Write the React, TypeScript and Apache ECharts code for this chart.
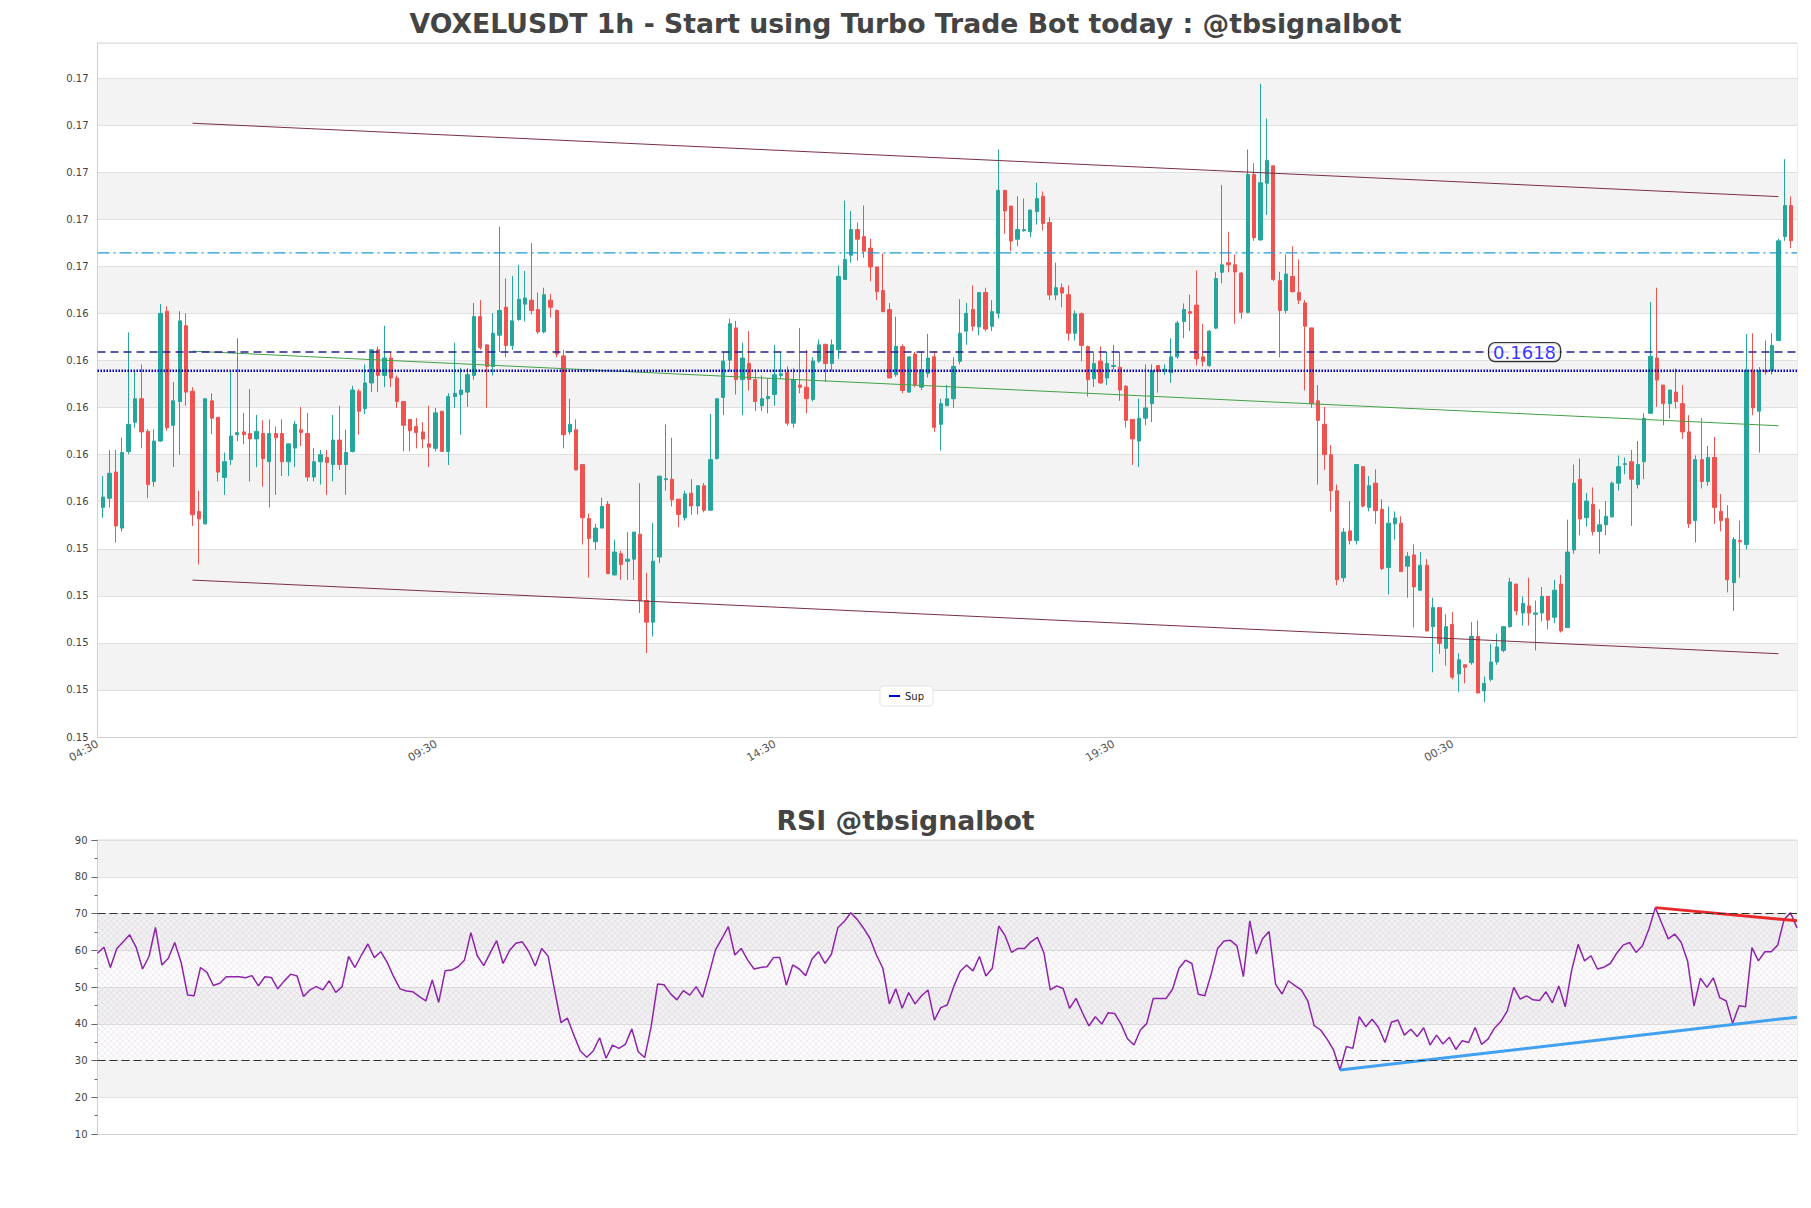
import { useEffect, useRef } from 'react';
import * as echarts from 'echarts';

const FONT = "'DejaVu Sans', sans-serif";

// candles: [open, close, low, high]
const ohlc: number[][] = [
  [0.15576, 0.1562, 0.15532, 0.15709], [0.15615, 0.15721, 0.15576, 0.1582], [0.15726, 0.15497, 0.15427, 0.1582], [0.15488, 0.15809, 0.15474, 0.15872],
  [0.15814, 0.15929, 0.15802, 0.1632], [0.15938, 0.16038, 0.15915, 0.16158], [0.16038, 0.15897, 0.15827, 0.16184], [0.15899, 0.15673, 0.15615, 0.15908],
  [0.15686, 0.15858, 0.15664, 0.15908], [0.15858, 0.16401, 0.15855, 0.1644], [0.1641, 0.15915, 0.15902, 0.16431], [0.15925, 0.16029, 0.15747, 0.16109],
  [0.16026, 0.16369, 0.158, 0.1641], [0.16348, 0.16066, 0.16008, 0.16401], [0.1607, 0.15545, 0.15497, 0.16087], [0.15559, 0.15527, 0.15333, 0.15647],
  [0.15506, 0.16038, 0.15502, 0.16038], [0.16029, 0.15955, 0.15888, 0.16061], [0.15959, 0.15726, 0.15686, 0.15959], [0.15703, 0.1577, 0.15629, 0.15809],
  [0.15779, 0.15879, 0.15756, 0.16158], [0.15885, 0.15894, 0.15858, 0.16295], [0.15897, 0.15885, 0.15844, 0.15978], [0.1589, 0.15867, 0.15686, 0.16079],
  [0.15867, 0.15899, 0.15747, 0.15969], [0.1589, 0.15784, 0.15664, 0.15946], [0.1577, 0.1589, 0.15576, 0.1595], [0.1589, 0.15872, 0.15629, 0.1592],
  [0.1589, 0.1577, 0.15709, 0.1595], [0.1577, 0.15846, 0.15709, 0.15846], [0.15828, 0.15929, 0.15747, 0.15943], [0.15906, 0.15894, 0.15837, 0.16003],
  [0.1589, 0.15705, 0.15687, 0.15978], [0.15705, 0.1577, 0.15687, 0.15828], [0.1577, 0.158, 0.15673, 0.1582], [0.15788, 0.15767, 0.15629, 0.1582],
  [0.15758, 0.15862, 0.15687, 0.15969], [0.15862, 0.15758, 0.15735, 0.16008], [0.15758, 0.15809, 0.15629, 0.15906], [0.15814, 0.16075, 0.15809, 0.16093],
  [0.1607, 0.15985, 0.15885, 0.16079], [0.15996, 0.16105, 0.15973, 0.16184], [0.16105, 0.16246, 0.16066, 0.16246], [0.16246, 0.16137, 0.16066, 0.1626],
  [0.16137, 0.16211, 0.16087, 0.16348], [0.16211, 0.16126, 0.16087, 0.16237], [0.16126, 0.16026, 0.15999, 0.16137], [0.16026, 0.15925, 0.15814, 0.16026],
  [0.1595, 0.15902, 0.15814, 0.1595], [0.1592, 0.15894, 0.15827, 0.15955], [0.15897, 0.15867, 0.15827, 0.15938], [0.15846, 0.15832, 0.15747, 0.16008],
  [0.15827, 0.15978, 0.15814, 0.15999], [0.15985, 0.15814, 0.15814, 0.15985], [0.15814, 0.16047, 0.15756, 0.16061], [0.16047, 0.16061, 0.15999, 0.16276],
  [0.16056, 0.16075, 0.15885, 0.1617], [0.16066, 0.1614, 0.16003, 0.16167], [0.16137, 0.16387, 0.16119, 0.16445], [0.16387, 0.16255, 0.16246, 0.16457],
  [0.16267, 0.16175, 0.15999, 0.16267], [0.16175, 0.16316, 0.16137, 0.16401], [0.16308, 0.16413, 0.16237, 0.16769], [0.16427, 0.16264, 0.16214, 0.16549],
  [0.16264, 0.16369, 0.16246, 0.1656], [0.16375, 0.16461, 0.16369, 0.16607], [0.1644, 0.16466, 0.16366, 0.16581], [0.16457, 0.16413, 0.16396, 0.16699],
  [0.16417, 0.16322, 0.16313, 0.16489], [0.16322, 0.1648, 0.16316, 0.1651], [0.16457, 0.16427, 0.16383, 0.16484], [0.16413, 0.16228, 0.16214, 0.16417],
  [0.1622, 0.15885, 0.15827, 0.16246], [0.15897, 0.15929, 0.15885, 0.16038], [0.15906, 0.15735, 0.15735, 0.1595], [0.15758, 0.15532, 0.15418, 0.15758],
  [0.15529, 0.15444, 0.15277, 0.1555], [0.1543, 0.15488, 0.15395, 0.15506], [0.15488, 0.1558, 0.15488, 0.15617], [0.1559, 0.15294, 0.15294, 0.15603],
  [0.15289, 0.15386, 0.15286, 0.15439], [0.15379, 0.15333, 0.15268, 0.15391], [0.15347, 0.15356, 0.15268, 0.15471], [0.15356, 0.15471, 0.15268, 0.15471],
  [0.15462, 0.1518, 0.15127, 0.15679], [0.1518, 0.15088, 0.14956, 0.15298], [0.15088, 0.15347, 0.15027, 0.15509], [0.15365, 0.15709, 0.15339, 0.15709],
  [0.15694, 0.15698, 0.15647, 0.15929], [0.15696, 0.15608, 0.1558, 0.15872], [0.15611, 0.15546, 0.15492, 0.15611], [0.15532, 0.15633, 0.1552, 0.15647],
  [0.15636, 0.15582, 0.15545, 0.15696], [0.15582, 0.15668, 0.15546, 0.15668], [0.15668, 0.15564, 0.15555, 0.15679], [0.15564, 0.15779, 0.15562, 0.15973],
  [0.15784, 0.16038, 0.15779, 0.16038], [0.16043, 0.16198, 0.15968, 0.16237], [0.16202, 0.16357, 0.16154, 0.16378], [0.16339, 0.16119, 0.16056, 0.16369],
  [0.16119, 0.16211, 0.15968, 0.16276], [0.16188, 0.16119, 0.16073, 0.16325], [0.16119, 0.16026, 0.15985, 0.16161], [0.16008, 0.16038, 0.15985, 0.16137],
  [0.16038, 0.16047, 0.15976, 0.16123], [0.16056, 0.1614, 0.16008, 0.16267], [0.16137, 0.16144, 0.16123, 0.16237], [0.16149, 0.15934, 0.15923, 0.16175],
  [0.15934, 0.16119, 0.15915, 0.16167], [0.16096, 0.16087, 0.16061, 0.16339], [0.16087, 0.16038, 0.15976, 0.16246], [0.16035, 0.16198, 0.16026, 0.16214],
  [0.16198, 0.16267, 0.1619, 0.1629], [0.16269, 0.16188, 0.16109, 0.16272], [0.16188, 0.16267, 0.16154, 0.1629], [0.16246, 0.16558, 0.16207, 0.16604],
  [0.16545, 0.1663, 0.16545, 0.1688], [0.16648, 0.16757, 0.16616, 0.16836], [0.16757, 0.16716, 0.16625, 0.16787], [0.16727, 0.16665, 0.16637, 0.16859],
  [0.16678, 0.16598, 0.16537, 0.16718], [0.16598, 0.16493, 0.16457, 0.16598], [0.16498, 0.16408, 0.16408, 0.16655], [0.16417, 0.16126, 0.16126, 0.16445],
  [0.1614, 0.1626, 0.16131, 0.16387], [0.1626, 0.16073, 0.16061, 0.16269], [0.16066, 0.16216, 0.16066, 0.16216], [0.16228, 0.16096, 0.16087, 0.16237],
  [0.16087, 0.16161, 0.16075, 0.16237], [0.16146, 0.16211, 0.16128, 0.16313], [0.16216, 0.15916, 0.15897, 0.16241], [0.15929, 0.16017, 0.15818, 0.16038],
  [0.16008, 0.16038, 0.16008, 0.16096], [0.16038, 0.16175, 0.15999, 0.16214], [0.16197, 0.16316, 0.16184, 0.16461], [0.16325, 0.16401, 0.16267, 0.16445],
  [0.16417, 0.16346, 0.16325, 0.16519], [0.16343, 0.16489, 0.16308, 0.16489], [0.16489, 0.16334, 0.16325, 0.1651], [0.16346, 0.16408, 0.16325, 0.16457],
  [0.16401, 0.16924, 0.16378, 0.17097], [0.16924, 0.16836, 0.16739, 0.16924], [0.16857, 0.16708, 0.16665, 0.16857], [0.16716, 0.16757, 0.16686, 0.16898],
  [0.16752, 0.16757, 0.16748, 0.16889], [0.16748, 0.1684, 0.16725, 0.1684], [0.16833, 0.16889, 0.16778, 0.16956], [0.16898, 0.16783, 0.16753, 0.16919],
  [0.16787, 0.16479, 0.16457, 0.1681], [0.16479, 0.1651, 0.16457, 0.16616], [0.1651, 0.16487, 0.16426, 0.16528], [0.1648, 0.16316, 0.16285, 0.16519],
  [0.16316, 0.16399, 0.16285, 0.16413], [0.16399, 0.16264, 0.16197, 0.16405], [0.1626, 0.16119, 0.16047, 0.16264], [0.16123, 0.16188, 0.16087, 0.16234],
  [0.16198, 0.16105, 0.16101, 0.1626], [0.16126, 0.16188, 0.16096, 0.16237], [0.16175, 0.16179, 0.16161, 0.16267], [0.16172, 0.16075, 0.16029, 0.16237],
  [0.16091, 0.15946, 0.15915, 0.16096], [0.1595, 0.15867, 0.15756, 0.1595], [0.15858, 0.15955, 0.15747, 0.16038], [0.15955, 0.15999, 0.15925, 0.16184],
  [0.16017, 0.16158, 0.15938, 0.16184], [0.16179, 0.16154, 0.16064, 0.16179], [0.16159, 0.16163, 0.1614, 0.16184], [0.16149, 0.16216, 0.16105, 0.16295],
  [0.16216, 0.1636, 0.16207, 0.16369], [0.16366, 0.16417, 0.16295, 0.16443], [0.16408, 0.16401, 0.16325, 0.1648], [0.16436, 0.16207, 0.16179, 0.16584],
  [0.16216, 0.16197, 0.16175, 0.16357], [0.16179, 0.16325, 0.16172, 0.16331], [0.16338, 0.16549, 0.16334, 0.16577], [0.16575, 0.16607, 0.16528, 0.16947],
  [0.16616, 0.16607, 0.16575, 0.16748], [0.16607, 0.16577, 0.16357, 0.16651], [0.16572, 0.16405, 0.16378, 0.16577], [0.16405, 0.16991, 0.16401, 0.17097],
  [0.16991, 0.16722, 0.16709, 0.17039], [0.16713, 0.16956, 0.16709, 0.17377], [0.16954, 0.17051, 0.16819, 0.17229], [0.17028, 0.16545, 0.16537, 0.17028],
  [0.1654, 0.16413, 0.16214, 0.16577], [0.16413, 0.16568, 0.16401, 0.16651], [0.16558, 0.16493, 0.16489, 0.16686], [0.16489, 0.16457, 0.1644, 0.1663],
  [0.16445, 0.16346, 0.16073, 0.16457], [0.16339, 0.16017, 0.15999, 0.16339], [0.16029, 0.15946, 0.15673, 0.16096], [0.15929, 0.158, 0.15735, 0.16003],
  [0.158, 0.15647, 0.15559, 0.15841], [0.15647, 0.15268, 0.15245, 0.15673], [0.15277, 0.15471, 0.15259, 0.15488], [0.15476, 0.15435, 0.15418, 0.15603],
  [0.15435, 0.15758, 0.15418, 0.15758], [0.15749, 0.15582, 0.15576, 0.15749], [0.15576, 0.15668, 0.15559, 0.15709], [0.15679, 0.15562, 0.15506, 0.15738],
  [0.15568, 0.15316, 0.15309, 0.15611], [0.15321, 0.15509, 0.15206, 0.1558], [0.15506, 0.15531, 0.15439, 0.15559], [0.15509, 0.15303, 0.15303, 0.15538],
  [0.15326, 0.15368, 0.15192, 0.15386], [0.15374, 0.15238, 0.15065, 0.15418], [0.15224, 0.1533, 0.1522, 0.15386], [0.1533, 0.15051, 0.15048, 0.15356],
  [0.15069, 0.1515, 0.14875, 0.15192], [0.1515, 0.14998, 0.14954, 0.1515], [0.14977, 0.15069, 0.14903, 0.15122], [0.15078, 0.14854, 0.14845, 0.15132],
  [0.14868, 0.14928, 0.14792, 0.14956], [0.14907, 0.14896, 0.14828, 0.14907], [0.14916, 0.15027, 0.14907, 0.15088], [0.15027, 0.14787, 0.14787, 0.15095],
  [0.14796, 0.14828, 0.14748, 0.14857], [0.14845, 0.14919, 0.14836, 0.14995], [0.14919, 0.14983, 0.14907, 0.15039], [0.14968, 0.15069, 0.1496, 0.15069],
  [0.15069, 0.15259, 0.15065, 0.15277], [0.1525, 0.15136, 0.15118, 0.1525], [0.15127, 0.15168, 0.15074, 0.15198], [0.15157, 0.15127, 0.15074, 0.15277],
  [0.15122, 0.15127, 0.14968, 0.1518], [0.15127, 0.15198, 0.15092, 0.15238], [0.15198, 0.15097, 0.15057, 0.15198], [0.15109, 0.15224, 0.15083, 0.15268],
  [0.1525, 0.15051, 0.15044, 0.15289], [0.15065, 0.15386, 0.15065, 0.15524], [0.15395, 0.15679, 0.15379, 0.15758], [0.15696, 0.15527, 0.15457, 0.15784],
  [0.15532, 0.15603, 0.15494, 0.15638], [0.15589, 0.15474, 0.15457, 0.15661], [0.15474, 0.15502, 0.15379, 0.15568], [0.15502, 0.15538, 0.15458, 0.15603],
  [0.15536, 0.15679, 0.15532, 0.15686], [0.15679, 0.15749, 0.15647, 0.15797], [0.15758, 0.15762, 0.15717, 0.15788], [0.1577, 0.15696, 0.15497, 0.1582],
  [0.15673, 0.15758, 0.15656, 0.15858], [0.1577, 0.15955, 0.15696, 0.15976], [0.15976, 0.16218, 0.15973, 0.16449], [0.16211, 0.16117, 0.16003, 0.1651],
  [0.16096, 0.16017, 0.15925, 0.16096], [0.16017, 0.16075, 0.15955, 0.16075], [0.16066, 0.16026, 0.15996, 0.16167], [0.16017, 0.15897, 0.15867, 0.16096],
  [0.15897, 0.15506, 0.15488, 0.15968], [0.1552, 0.15779, 0.15427, 0.15797], [0.15779, 0.15686, 0.15656, 0.15955], [0.15686, 0.15788, 0.15668, 0.15837],
  [0.15788, 0.15576, 0.15506, 0.15876], [0.15559, 0.1552, 0.15474, 0.15633], [0.15529, 0.15268, 0.15215, 0.15585], [0.15256, 0.15439, 0.15136, 0.1545],
  [0.15435, 0.1543, 0.15277, 0.1552], [0.15418, 0.16158, 0.15397, 0.16313], [0.16154, 0.15999, 0.15968, 0.16316], [0.15985, 0.16158, 0.15809, 0.16172],
  [0.16158, 0.16152, 0.1614, 0.16286], [0.16158, 0.16264, 0.1614, 0.16316], [0.16285, 0.16709, 0.16285, 0.16718], [0.16727, 0.16859, 0.16709, 0.17056],
  [0.16859, 0.16709, 0.16678, 0.16898],
];

const rsiValues: number[] = [
  59.2, 60.8, 55.3, 60.5, 62.3, 64.2, 60.8, 54.9, 58.3, 66.2,
  56.0, 57.8, 62.1, 56.6, 47.8, 47.6, 55.3, 54.0, 50.4, 51.0,
  52.8, 52.8, 52.8, 52.5, 53.1, 50.3, 52.8, 52.6, 49.5, 51.6,
  53.5, 53.0, 47.4, 49.2, 50.1, 49.2, 51.7, 48.5, 50.1, 58.3,
  55.3, 58.7, 61.7, 58.0, 59.6, 56.7, 52.8, 49.5, 48.9, 48.7,
  47.4, 46.2, 51.9, 45.8, 54.4, 54.6, 55.5, 57.3, 64.8, 58.5,
  55.8, 59.3, 62.6, 56.4, 59.9, 61.9, 62.3, 59.6, 55.7, 60.5,
  58.4, 49.2, 40.3, 41.5, 36.9, 32.6, 30.9, 32.6, 36.2, 30.6,
  34.2, 33.3, 34.4, 38.6, 32.4, 30.8, 39.2, 50.8, 50.6, 48.2,
  46.5, 49.0, 47.8, 50.1, 47.2, 53.5, 60.1, 63.2, 66.4, 58.7,
  60.5, 57.3, 54.9, 55.3, 55.5, 58.0, 58.0, 50.5, 56.0, 54.9,
  53.1, 57.6, 59.6, 56.4, 58.9, 66.1, 67.8, 70.2, 68.4, 66.0,
  63.2, 58.7, 55.1, 45.4, 49.5, 44.2, 48.5, 45.4, 47.6, 49.2,
  41.0, 44.4, 45.1, 50.1, 54.2, 56.0, 54.4, 58.3, 53.0, 55.1,
  66.6, 63.9, 59.4, 60.5, 60.5, 62.3, 63.5, 59.4, 49.2, 50.3,
  49.6, 44.2, 46.9, 43.0, 39.4, 41.9, 39.9, 43.0, 42.8, 39.9,
  35.9, 34.2, 38.3, 40.1, 46.9, 46.9, 46.9, 49.4, 55.1, 57.3,
  56.4, 48.0, 47.6, 53.5, 60.5, 62.5, 62.7, 61.2, 52.8, 68.0,
  59.0, 63.2, 65.1, 50.8, 48.1, 51.7, 50.4, 49.2, 46.2, 39.5,
  38.3, 35.8, 32.9, 27.4, 33.8, 33.3, 41.9, 39.2, 41.2, 39.0,
  34.9, 40.4, 41.0, 36.9, 38.5, 36.5, 38.9, 34.2, 36.9, 34.5,
  36.3, 33.0, 35.4, 34.9, 39.0, 34.4, 35.8, 38.8, 40.6, 43.5,
  49.9, 46.7, 47.6, 46.5, 46.3, 48.7, 45.7, 50.3, 44.6, 54.6,
  61.6, 57.1, 58.5, 54.9, 55.4, 56.4, 59.2, 61.4, 62.1, 59.4,
  61.2, 65.8, 71.6, 67.3, 63.1, 64.4, 62.2, 57.1, 44.8, 52.4,
  49.9, 52.5, 47.1, 46.2, 40.1, 44.9, 44.6, 60.7, 57.1, 59.6,
  59.6, 61.4, 68.4, 70.2, 66.1,
];

const xTickPositions = [-0.86, 52.12, 105.1, 158.08, 211.06];
const xTickLabels = ['04:30', '09:30', '14:30', '19:30', '00:30'];
const candleXRange = [-0.86, 264.9];
const rsiXRange = [0, 264];
const priceRange = [0.146, 0.1755];
const priceInterval = 0.002;
const rsiRange = [10, 90];

const channelUpper = [[14, 0.17209], [262, 0.16897]];
const channelLower = [[14, 0.15267], [262, 0.14954]];
const trendLine = [[14, 0.1624], [262, 0.15923]];
const resistanceLevel = 0.16658;
const pivotLevel = 0.16236;
const pivotLabel = '0.1618';
const pivotLabelX = 222.3;
const supportLevel = 0.16157;
const rsiBounds = [30, 70];
const rsiSupportLine = [[193, 27.4], [264, 41.8]];
const rsiResistanceLine = [[242, 71.6], [264, 68.0]];

export default function App() {
  const ref = useRef<HTMLDivElement>(null);

  useEffect(() => {
    if (!ref.current) return;
    const chart = echarts.init(ref.current, null, { renderer: 'svg' });

    const cv = document.createElement('canvas');
    cv.width = 6;
    cv.height = 6;
    const ctx = cv.getContext('2d');
    if (ctx) {
      ctx.fillStyle = 'rgba(150,120,180,0.025)';
      ctx.fillRect(0, 0, 6, 6);
      ctx.strokeStyle = 'rgba(150,120,180,0.2)';
      ctx.lineWidth = 0.6;
      ctx.beginPath();
      ctx.moveTo(0, 0); ctx.lineTo(6, 6);
      ctx.moveTo(6, 0); ctx.lineTo(0, 6);
      ctx.stroke();
    }
    const hatch: any = { image: cv, repeat: 'repeat', imageWidth: 6, imageHeight: 6 };

    const hLine = (y: number) => [[candleXRange[0], y], [candleXRange[1], y]];
    const lineBase = { type: 'line', xAxisIndex: 0, yAxisIndex: 0, symbol: 'none', silent: true, z: 3 };
    const titleStyle = { fontFamily: FONT, fontSize: 26.7, fontWeight: 'bold', color: '#444' };

    const option: any = {
      animation: false,
      backgroundColor: '#ffffff',
      title: [
        { text: 'VOXELUSDT 1h - Start using Turbo Trade Bot today : @tbsignalbot', left: 'center', top: 10, padding: 0, textStyle: titleStyle },
        { text: 'RSI @tbsignalbot', left: 'center', top: 807, padding: 0, textStyle: titleStyle },
      ],
      legend: {
        data: [{ name: 'Sup', icon: 'rect' }],
        left: 880, top: 686,
        itemWidth: 11, itemHeight: 2,
        backgroundColor: '#ffffff', borderColor: '#e3e3e3', borderWidth: 1, borderRadius: 3,
        padding: [5, 9],
        selectedMode: false,
        textStyle: { fontFamily: FONT, fontSize: 10, color: '#222' },
      },
      grid: [
        { left: 97.5, right: 14, top: 43, bottom: 471, show: true, borderColor: '#d8d8d8', borderWidth: 1, backgroundColor: 'transparent' },
        { left: 97.5, right: 14, top: 840, bottom: 74, show: true, borderColor: '#d8d8d8', borderWidth: 1, backgroundColor: 'transparent' },
      ],
      xAxis: [
        {
          type: 'value', gridIndex: 0, min: candleXRange[0], max: candleXRange[1],
          axisLine: { show: true, onZero: false, lineStyle: { color: '#d0d0d0' } },
          axisTick: { show: false },
          splitLine: { show: false },
          axisLabel: {
            customValues: xTickPositions,
            formatter: (v: number) => {
              const k = xTickPositions.findIndex((p) => Math.abs(p - v) < 0.5);
              return k >= 0 ? xTickLabels[k] : '';
            },
            rotate: 30, fontSize: 11, color: '#555', fontFamily: FONT, margin: 6,
          },
        },
        {
          type: 'value', gridIndex: 1, min: rsiXRange[0], max: rsiXRange[1],
          axisLine: { show: true, onZero: false, lineStyle: { color: '#d0d0d0' } },
          axisTick: { show: false }, axisLabel: { show: false }, splitLine: { show: false },
        },
      ],
      yAxis: [
        {
          type: 'value', gridIndex: 0, min: priceRange[0], max: priceRange[1], interval: priceInterval,
          axisLine: { show: true, onZero: false, lineStyle: { color: '#d0d0d0' } },
          axisTick: { show: false },
          axisLabel: { formatter: (v: number) => v.toFixed(2), fontSize: 10, color: '#444', margin: 9, showMaxLabel: false, fontFamily: FONT },
          splitLine: { show: true, lineStyle: { color: '#e0e0e0', width: 1 } },
          splitArea: { show: true, areaStyle: { color: ['#ffffff', '#f3f3f3'] } },
        },
        {
          type: 'value', gridIndex: 1, min: rsiRange[0], max: rsiRange[1], interval: 10,
          axisLine: { show: true, onZero: false, lineStyle: { color: '#d0d0d0' } },
          axisTick: { show: true, length: 6, lineStyle: { color: '#666' } },
          minorTick: { show: true, splitNumber: 2, length: 3, lineStyle: { color: '#666' } },
          axisLabel: { fontSize: 10, color: '#444', margin: 10, fontFamily: FONT },
          splitLine: { show: true, lineStyle: { color: '#e0e0e0', width: 1 } },
          splitArea: { show: true, areaStyle: { color: ['#ffffff', '#f3f3f3'] } },
        },
      ],
      series: [
        {
          type: 'candlestick', xAxisIndex: 0, yAxisIndex: 0,
          data: ohlc.map((c, i) => [i, c[0], c[1], c[2], c[3]]),
          barWidth: 3.8,
          itemStyle: { color: '#26a69a', color0: '#ef5350', borderColor: '#26a69a', borderColor0: '#ef5350', borderWidth: 1 },
          z: 2,
        },
        { ...lineBase, name: 'Upper channel', data: channelUpper, lineStyle: { color: '#7a3044', width: 1 } },
        { ...lineBase, name: 'Lower channel', data: channelLower, lineStyle: { color: '#7a3044', width: 1 } },
        { ...lineBase, name: 'Trend', data: trendLine, lineStyle: { color: '#43a047', width: 1 } },
        { ...lineBase, name: 'Resistance', data: hLine(resistanceLevel), lineStyle: { color: '#1e9ad6', width: 1.2, type: [12, 4, 2, 4] } },
        { ...lineBase, name: 'Pivot', data: hLine(pivotLevel), lineStyle: { color: '#22229a', width: 1.5, type: [8, 5] } },
        { ...lineBase, name: 'Sup', data: hLine(supportLevel), itemStyle: { color: '#0000cc' }, lineStyle: { color: '#0000cc', width: 2.5, type: [1.5, 1.5] } },
        {
          type: 'scatter', xAxisIndex: 0, yAxisIndex: 0, silent: true, z: 6,
          data: [[pivotLabelX, pivotLevel]],
          symbol: 'rect', symbolSize: 1, itemStyle: { color: 'rgba(0,0,0,0)' },
          label: {
            show: true, position: 'inside', formatter: pivotLabel,
            color: '#0000ff', fontSize: 18, fontFamily: FONT, lineHeight: 17,
            backgroundColor: '#ffffff', borderColor: '#000', borderWidth: 1.2, borderRadius: 6, padding: [1, 4, 0, 4],
          },
        },
        {
          type: 'line', name: 'RSI', xAxisIndex: 1, yAxisIndex: 1, symbol: 'none', silent: true, z: 3,
          data: rsiValues.map((v, i) => [i, v]),
          lineStyle: { color: '#8e24aa', width: 1.5 },
          markArea: { silent: true, itemStyle: { color: hatch }, data: [[{ yAxis: rsiBounds[0] }, { yAxis: rsiBounds[1] }]] },
          markLine: {
            silent: true, symbol: 'none', label: { show: false },
            lineStyle: { color: '#333', type: [8, 4], width: 1.2 },
            data: [{ yAxis: rsiBounds[1] }, { yAxis: rsiBounds[0] }],
          },
        },
        { type: 'line', xAxisIndex: 1, yAxisIndex: 1, symbol: 'none', silent: true, z: 4, data: rsiSupportLine, lineStyle: { color: '#42a0f0', width: 3 } },
        { type: 'line', xAxisIndex: 1, yAxisIndex: 1, symbol: 'none', silent: true, z: 4, data: rsiResistanceLine, lineStyle: { color: '#e8282b', width: 3 } },
      ],
    };

    chart.setOption(option);
    return () => chart.dispose();
  }, []);

  return <div ref={ref} style={{ position: 'absolute', left: 0, top: 0, width: 1811, height: 1208 }} />;
}
